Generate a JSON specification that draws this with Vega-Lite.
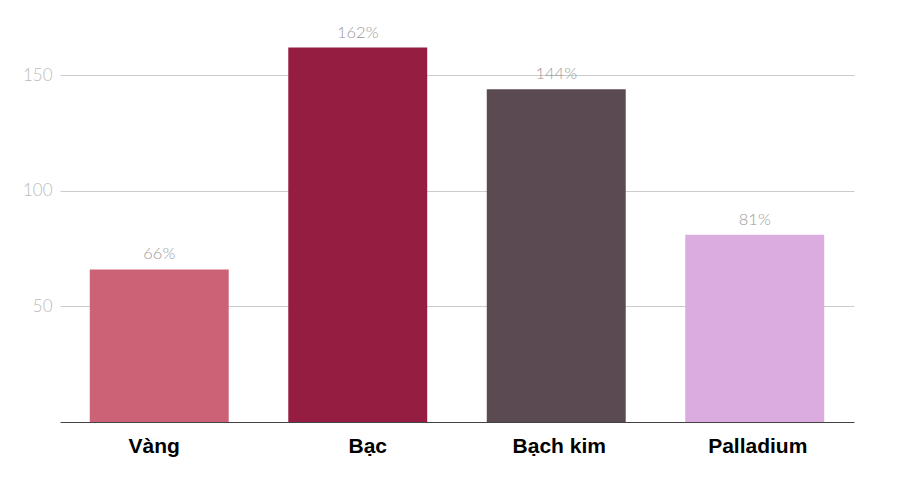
{
  "$schema": "https://vega.github.io/schema/vega-lite/v6.json",
  "width": 794,
  "height": 416,
  "autosize": {"type": "none"},
  "padding": {"left": 60, "top": 6, "right": 46, "bottom": 57},
  "background": "white",
  "config": {"view": {"stroke": null}},
  "data": {"values": [
    {"metal": "Vàng", "value": 66, "label": "66%"},
    {"metal": "Bạc", "value": 162, "label": "162%"},
    {"metal": "Bạch kim", "value": 144, "label": "144%"},
    {"metal": "Palladium", "value": 81, "label": "81%"}
  ]},
  "encoding": {
    "x": {
      "field": "metal", "type": "nominal", "sort": null,
      "scale": {"paddingInner": 0.3, "paddingOuter": 0.15},
      "axis": {
        "title": null, "labelAngle": 0, "ticks": false,
        "labelFont": "Liberation Sans", "labelFontWeight": "bold", "labelFontSize": 21,
        "labelColor": "#000000", "labelPadding": 13,
        "labelOffset": {"expr": "datum.value === 'Vàng' ? -5 : datum.value === 'Bạc' ? 10 : 3"},
        "domainColor": "#444444", "domainWidth": 1
      }
    },
    "y": {
      "field": "value", "type": "quantitative",
      "scale": {"domain": [0, 180], "nice": false},
      "axis": {
        "title": null, "values": [50, 100, 150], "ticks": false, "domain": false,
        "grid": true, "gridColor": "#cccccc", "gridWidth": 1,
        "labelFont": "Lato", "labelFontWeight": 300, "labelFontSize": 17,
        "labelColor": "#bbbbbb", "labelPadding": 8
      }
    }
  },
  "layer": [
    {
      "mark": {"type": "bar"},
      "encoding": {
        "color": {
          "field": "metal", "type": "nominal", "legend": null,
          "scale": {
            "domain": ["Vàng", "Bạc", "Bạch kim", "Palladium"],
            "range": ["#cc6275", "#961d42", "#5c4a52", "#daace0"]
          }
        }
      }
    },
    {
      "mark": {"type": "text", "dy": -7, "baseline": "bottom", "font": "Lato", "fontWeight": 300, "fontSize": 16.5, "color": "#999999"},
      "encoding": {"text": {"field": "label"}}
    }
  ]
}
